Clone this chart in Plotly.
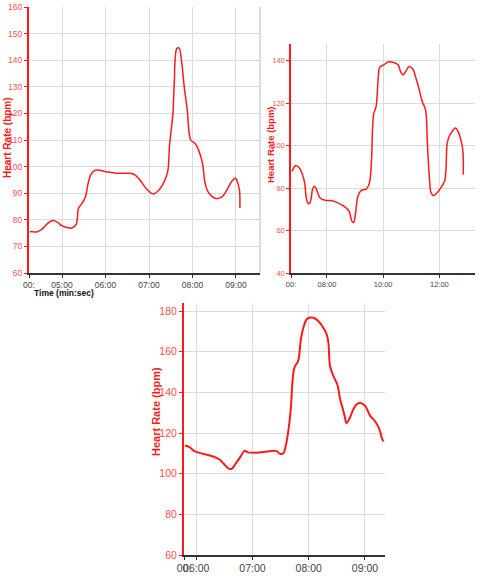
import plotly.graph_objects as go

# heart rate traces, time in minutes
t1 = [4.26, 4.43, 4.54, 4.66, 4.79, 4.90, 5.00, 5.11, 5.23, 5.33, 5.38, 5.46, 5.54, 5.61,
      5.69, 5.79, 6.00, 6.26, 6.49, 6.64, 6.76, 6.95, 7.09, 7.22, 7.33, 7.43, 7.47, 7.51,
      7.55, 7.58, 7.64, 7.69, 7.75, 7.81, 7.88, 7.96, 8.06, 8.14, 8.23, 8.29, 8.37, 8.52,
      8.67, 8.79, 8.90, 8.99, 9.03, 9.08, 9.09]
hr1 = [75.6, 75.5, 76.5, 78.5, 79.7, 79.0, 77.7, 77.1, 76.9, 78.5, 84.4, 86.2, 88.7, 94.4,
       97.7, 98.7, 98.1, 97.5, 97.5, 97.2, 95.6, 91.5, 89.7, 91.0, 93.7, 98.1, 107.5, 113.7,
       120.0, 131.2, 144.4, 144.6, 139.4, 130.0, 121.2, 110.0, 108.7, 106.2, 101.2, 93.7, 90.2, 88.1,
       88.5, 91.2, 94.4, 95.6, 94.4, 91.2, 84.4]

t2 = [6.76, 6.88, 7.00, 7.11, 7.21, 7.25, 7.32, 7.38, 7.44, 7.49, 7.56, 7.64, 7.76, 7.94,
      8.18, 8.41, 8.65, 8.79, 8.89, 8.95, 9.01, 9.10, 9.22, 9.40, 9.51, 9.58, 9.66, 9.75,
      9.82, 9.88, 10.02, 10.20, 10.38, 10.53, 10.62, 10.70, 10.80, 10.92, 11.06, 11.15, 11.27,
      11.39, 11.51, 11.57, 11.65, 11.71, 11.80, 11.96, 12.10, 12.20, 12.28, 12.36, 12.48,
      12.57, 12.67, 12.78, 12.84, 12.85]
hr2 = [87.8, 90.5, 89.8, 87.0, 82.3, 76.8, 72.9, 72.6, 75.3, 79.5, 80.8, 78.9, 75.3, 74.2,
       74.0, 72.9, 71.0, 69.0, 64.3, 63.8, 67.4, 76.0, 78.9, 79.5, 82.3, 91.7, 114.5, 118.4,
       130.9, 136.9, 138.0, 139.4, 139.1, 138.0, 134.8, 133.3, 134.8, 137.2, 135.9, 132.5, 127.0,
       120.7, 116.8, 101.9, 83.9, 77.6, 76.5, 78.4, 81.1, 83.9, 101.1, 104.6, 107.1,
       108.2, 106.6, 101.9, 97.2, 86.2]

t3 = [5.80, 5.88, 5.97, 6.12, 6.30, 6.42, 6.49, 6.57, 6.63, 6.70, 6.79, 6.86, 6.92, 7.13,
      7.31, 7.43, 7.49, 7.55, 7.59, 7.64, 7.68, 7.72, 7.75, 7.81, 7.86, 7.91, 7.97, 8.08,
      8.17, 8.26, 8.32, 8.35, 8.38, 8.44, 8.51, 8.56, 8.61, 8.64, 8.67, 8.73, 8.79, 8.86,
      8.92, 9.00, 9.04, 9.09, 9.18, 9.26, 9.30, 9.33]
hr3 = [113.9, 113.1, 111.1, 109.8, 108.5, 106.9, 104.9, 102.6, 102.4, 104.9, 108.5, 111.3, 110.5, 110.5,
       111.1, 111.1, 109.8, 110.1, 113.4, 121.6, 131.5, 148.0, 152.6, 155.3, 166.0, 172.3, 176.2, 176.7,
       175.1, 171.8, 168.5, 164.4, 152.9, 148.0, 143.8, 136.4, 131.5, 128.2, 124.9, 127.4, 131.5, 134.3,
       134.8, 133.5, 131.5, 128.6, 125.8, 121.6, 117.5, 115.9]

RED = "#ff1a1a"
GRID = "#dcdcdc"
FONT = "Liberation Sans"
W, H = 504, 580


def dom_x(a, b):
    return [a / W, b / W]


def dom_y(top, bottom):
    return [1 - bottom / H, 1 - top / H]


fig = go.Figure()
fig.add_trace(go.Scatter(x=t1, y=hr1, mode="lines", line=dict(color=RED, width=1.5, shape="spline"),
                         xaxis="x", yaxis="y", showlegend=False))
fig.add_trace(go.Scatter(x=t2, y=hr2, mode="lines", line=dict(color=RED, width=1.5, shape="spline"),
                         xaxis="x2", yaxis="y2", showlegend=False))
fig.add_trace(go.Scatter(x=t3, y=hr3, mode="lines", line=dict(color=RED, width=2, shape="spline"),
                         xaxis="x3", yaxis="y3", showlegend=False))


def xax(domain, rng, vals, texts, anchor, size):
    return dict(domain=domain, range=rng, anchor=anchor, tickvals=vals, ticktext=texts,
                automargin=False, tickangle=0,
                showgrid=True, gridcolor=GRID, gridwidth=1, zeroline=False,
                showline=True, linecolor="#333333", linewidth=1.5,
                ticks="outside", ticklen=3, tickcolor="#333333",
                tickfont=dict(family=FONT, size=size, color="#444444"))


def yax(domain, rng, dtick, anchor, size, lw):
    return dict(domain=domain, range=rng, anchor=anchor, dtick=dtick, tick0=0,
                automargin=False,
                showgrid=True, gridcolor=GRID, gridwidth=1, zeroline=False,
                showline=True, linecolor=RED, linewidth=lw,
                ticks="outside", ticklen=3, tickcolor=RED,
                tickfont=dict(family=FONT, size=size, color="#ff5050"))


def ytitle(x, y, size):
    return dict(text="<b>Heart Rate (bpm)</b>", x=x / W, y=1 - y / H, xref="paper", yref="paper",
                xanchor="center", yanchor="middle", textangle=-90, showarrow=False,
                font=dict(family=FONT, size=size, color=RED))


fig.update_layout(
    width=W, height=H, margin=dict(l=0, r=0, t=0, b=0),
    paper_bgcolor="white", plot_bgcolor="white",
    xaxis=xax(dom_x(29, 260), [4.241, 9.552], [4.241, 5, 6, 7, 8, 9],
              ["00:", "05:00", "06:00", "07:00", "08:00", "09:00"], "y", 8.5),
    yaxis=yax(dom_y(7, 273), [60, 160], 10, "x", 8.5, 2),
    xaxis2=xax(dom_x(291, 475), [6.721, 13.268], [6.721, 8, 10, 12],
               ["00:", "08:00", "10:00", "12:00"], "y2", 7.5),
    yaxis2=yax(dom_y(44, 273), [40, 147.8], 20, "x2", 7.5, 1.5),
    xaxis3=xax(dom_x(184, 385), [5.783, 9.356], [5.783, 6, 7, 8, 9],
               ["00:", "06:00", "07:00", "08:00", "09:00"], "y3", 10.5),
    yaxis3=yax(dom_y(303, 555), [60, 184], 20, "x3", 10.5, 2),
    annotations=[
        ytitle(7, 138, 10),
        ytitle(270, 145, 9.5),
        ytitle(156, 412, 11),
        dict(text="<b>Time (min:sec)</b>", x=32 / W, y=1 - 293 / H, xref="paper", yref="paper",
             xanchor="left", yanchor="middle", showarrow=False,
             font=dict(family=FONT, size=8.5, color="#111111")),
    ],
    shapes=[
        dict(type="line", xref="x domain", yref="y domain", x0=1, x1=1, y0=0, y1=1,
             line=dict(color="#bbbbbb", width=1)),
    ],
)

# drop the browser's default page margin so the figure sits at the top-left corner
fig.write_html("out.html", config={"displayModeBar": False},
               post_script="document.body.style.margin = '0';")
